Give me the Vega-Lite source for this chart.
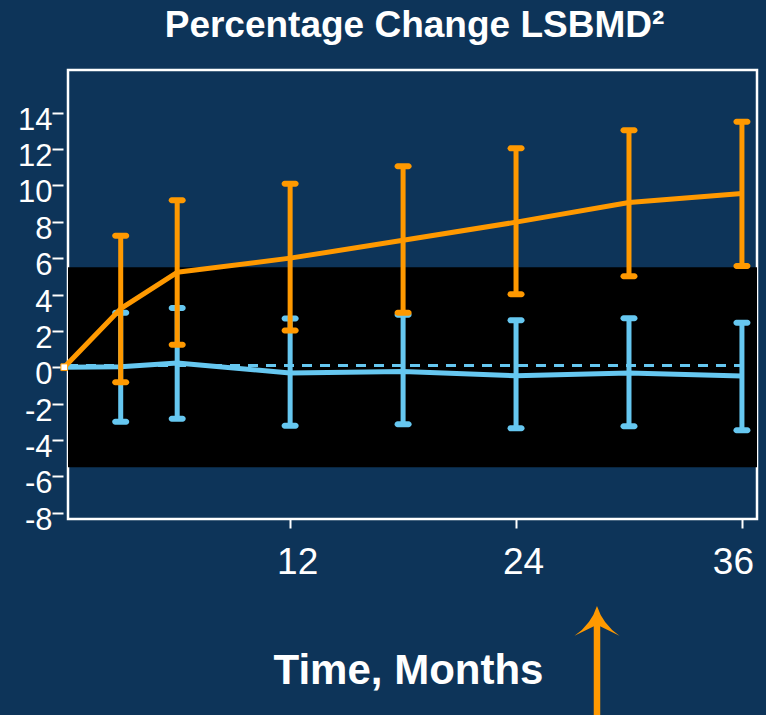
{
  "$schema": "https://vega.github.io/schema/vega-lite/v6.json",
  "width": 689,
  "height": 449,
  "autosize": {"type": "none"},
  "padding": {"left": 68, "top": 70, "right": 9, "bottom": 196},
  "background": "#0d3459",
  "config": {
    "font": "Liberation Sans",
    "view": {"fill": null, "stroke": "#ffffff", "strokeWidth": 2.5},
    "axisX": {
      "domain": false, "grid": false,
      "tickSize": 9, "tickWidth": 2, "tickColor": "#ffffff",
      "labelColor": "#ffffff", "labelFontSize": 37, "labelFont": "Liberation Sans",
      "labelBaseline": "alphabetic", "labelPadding": 45, "labelFlush": false,
      "titleColor": "#ffffff", "titleFontSize": 42, "titleFontWeight": "bold", "titleFont": "Liberation Sans",
      "titleBaseline": "alphabetic", "titleX": 340, "titleY": 164
    },
    "axisY": {
      "domain": false, "grid": false, "offset": 5,
      "tickSize": 11, "tickWidth": 2, "tickColor": "#ffffff",
      "labelColor": "#ffffff", "labelFontSize": 31, "labelFont": "Liberation Sans",
      "labelBaseline": "alphabetic", "labelPadding": 0, "labelOffset": 16.5
    }
  },
  "title": {
    "text": "Percentage Change LSBMD²",
    "fontSize": 37, "fontWeight": "bold", "color": "#ffffff", "font": "Liberation Sans",
    "anchor": "middle", "baseline": "alphabetic", "offset": -3.5, "dx": 2, "frame": "group"
  },
  "datasets": {
    "series": [
      {"group": "comparator", "month": 0, "mean": 0, "lo": 0, "hi": 0},
      {"group": "comparator", "month": 3, "mean": 0.03, "lo": -3.0, "hi": 3.0},
      {"group": "comparator", "month": 6, "mean": 0.23, "lo": -2.83, "hi": 3.26},
      {"group": "comparator", "month": 12, "mean": -0.32, "lo": -3.22, "hi": 2.68},
      {"group": "comparator", "month": 18, "mean": -0.23, "lo": -3.14, "hi": 2.89},
      {"group": "comparator", "month": 24, "mean": -0.47, "lo": -3.36, "hi": 2.58},
      {"group": "comparator", "month": 30, "mean": -0.32, "lo": -3.25, "hi": 2.69},
      {"group": "comparator", "month": 36, "mean": -0.49, "lo": -3.47, "hi": 2.45},
      {"group": "treatment", "month": 0, "mean": 0, "lo": 0, "hi": 0},
      {"group": "treatment", "month": 3, "mean": 3.22, "lo": -0.83, "hi": 7.23},
      {"group": "treatment", "month": 6, "mean": 5.22, "lo": 1.24, "hi": 9.18},
      {"group": "treatment", "month": 12, "mean": 6.0, "lo": 2.02, "hi": 10.09},
      {"group": "treatment", "month": 18, "mean": 6.98, "lo": 3.0, "hi": 11.05},
      {"group": "treatment", "month": 24, "mean": 7.98, "lo": 4.02, "hi": 12.04},
      {"group": "treatment", "month": 30, "mean": 9.06, "lo": 5.01, "hi": 13.03},
      {"group": "treatment", "month": 36, "mean": 9.56, "lo": 5.57, "hi": 13.5}
    ],
    "band": [{"month": 0.2, "month_end": 36.8, "lo": -5.5, "hi": 5.5}],
    "reference": [{"month": 0.2, "month_end": 36.3, "level": 0.1}],
    "arrow": [{"month": 28.3, "head": -14.37, "notch": -14.1, "tail": -19.5}]
  },
  "encoding": {
    "x": {
      "field": "month", "type": "quantitative",
      "scale": {"domain": [0.2, 36.8], "nice": false, "zero": false},
      "axis": {
        "values": [12, 24, 36],
        "labelOffset": {"condition": {"test": "datum.value == 36", "value": -9}, "value": 7}
      },
      "title": "Time, Months"
    }
  },
  "layer": [
    {
      "data": {"name": "band"},
      "mark": {"type": "rect", "fill": "#000000"},
      "encoding": {
        "x2": {"field": "month_end"},
        "y": {"field": "lo", "type": "quantitative", "scale": {"domain": [-8.35, 16.35], "nice": false, "zero": false},
              "axis": {"values": [-8, -6, -4, -2, 0, 2, 4, 6, 8, 10, 12, 14], "labelExpr": "'' + datum.value"}, "title": null},
        "y2": {"field": "hi"}
      }
    },
    {
      "data": {"name": "reference"},
      "mark": {"type": "rule", "stroke": "#66c7f0", "strokeWidth": 3, "strokeDash": [10, 8]},
      "encoding": {
        "x2": {"field": "month_end"},
        "y": {"field": "level", "type": "quantitative", "scale": {"domain": [-8.35, 16.35], "nice": false, "zero": false}, "title": null}
      }
    },
    {
      "data": {"name": "series"},
      "transform": [{"filter": "datum.group == 'comparator'"}],
      "mark": {"type": "line", "stroke": "#66c7f0", "strokeWidth": 5, "strokeJoin": "round"},
      "encoding": {
        "y": {"field": "mean", "type": "quantitative", "scale": {"domain": [-8.35, 16.35], "nice": false, "zero": false}, "title": null}
      }
    },
    {
      "data": {"name": "series"},
      "transform": [{"filter": "datum.group == 'comparator' && datum.month > 0"}],
      "mark": {"type": "rule", "stroke": "#66c7f0", "strokeWidth": 5},
      "encoding": {
        "y": {"field": "lo", "type": "quantitative", "scale": {"domain": [-8.35, 16.35], "nice": false, "zero": false}, "title": null},
        "y2": {"field": "hi"}
      }
    },
    {
      "data": {"name": "series"},
      "transform": [
        {"filter": "datum.group == 'comparator' && datum.month > 0"},
        {"fold": ["lo", "hi"], "as": ["end", "value"]}
      ],
      "mark": {"type": "tick", "orient": "horizontal", "color": "#66c7f0", "size": 17, "thickness": 6, "cornerRadius": 3, "opacity": 1},
      "encoding": {
        "y": {"field": "value", "type": "quantitative", "scale": {"domain": [-8.35, 16.35], "nice": false, "zero": false}, "title": null}
      }
    },
    {
      "data": {"name": "series"},
      "transform": [{"filter": "datum.group == 'treatment'"}],
      "mark": {"type": "line", "stroke": "#ff9900", "strokeWidth": 5, "strokeJoin": "round"},
      "encoding": {
        "y": {"field": "mean", "type": "quantitative", "scale": {"domain": [-8.35, 16.35], "nice": false, "zero": false}, "title": null}
      }
    },
    {
      "data": {"name": "series"},
      "transform": [{"filter": "datum.group == 'treatment' && datum.month > 0"}],
      "mark": {"type": "rule", "stroke": "#ff9900", "strokeWidth": 5},
      "encoding": {
        "y": {"field": "lo", "type": "quantitative", "scale": {"domain": [-8.35, 16.35], "nice": false, "zero": false}, "title": null},
        "y2": {"field": "hi"}
      }
    },
    {
      "data": {"name": "series"},
      "transform": [
        {"filter": "datum.group == 'treatment' && datum.month > 0"},
        {"fold": ["lo", "hi"], "as": ["end", "value"]}
      ],
      "mark": {"type": "tick", "orient": "horizontal", "color": "#ff9900", "size": 17, "thickness": 6, "cornerRadius": 3, "opacity": 1},
      "encoding": {
        "y": {"field": "value", "type": "quantitative", "scale": {"domain": [-8.35, 16.35], "nice": false, "zero": false}, "title": null}
      }
    },
    {
      "data": {"name": "series"},
      "transform": [{"filter": "datum.group == 'treatment' && datum.month == 0"}],
      "mark": {"type": "point", "shape": "square", "filled": true, "fill": "#ffffff", "stroke": "#ff9900", "strokeWidth": 1, "size": 45, "opacity": 1},
      "encoding": {
        "y": {"field": "mean", "type": "quantitative", "scale": {"domain": [-8.35, 16.35], "nice": false, "zero": false}, "title": null}
      }
    },
    {
      "data": {"name": "arrow"},
      "mark": {"type": "rule", "stroke": "#ff9900", "strokeWidth": 6.5},
      "encoding": {
        "y": {"field": "notch", "type": "quantitative", "scale": {"domain": [-8.35, 16.35], "nice": false, "zero": false}, "title": null},
        "y2": {"field": "tail"}
      }
    },
    {
      "data": {"name": "arrow"},
      "mark": {
        "type": "point", "filled": true, "fill": "#ff9900", "strokeWidth": 0, "opacity": 1, "size": 2025,
        "shape": "M0,-1 Q0.25,-0.2 1,0.33 L0,-0.16 L-1,0.33 Q-0.25,-0.2 0,-1 Z"
      },
      "encoding": {
        "y": {"field": "head", "type": "quantitative", "scale": {"domain": [-8.35, 16.35], "nice": false, "zero": false}, "title": null}
      }
    }
  ]
}
